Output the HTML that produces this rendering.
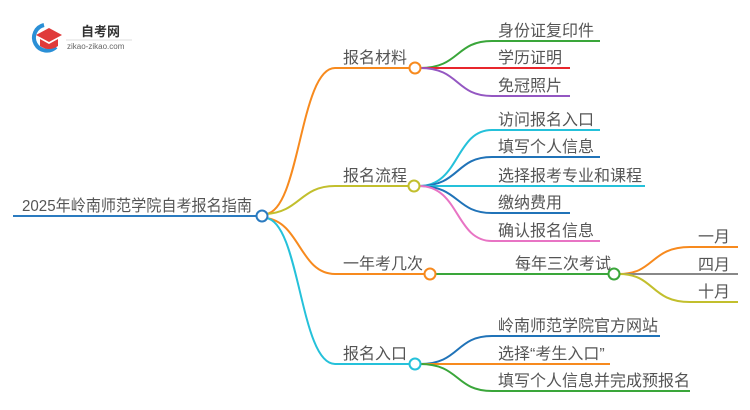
<!DOCTYPE html>
<html><head><meta charset="utf-8"><style>
html,body{margin:0;padding:0;background:#fff;width:750px;height:410px;overflow:hidden}
text{font-family:"Liberation Sans","Noto Sans CJK SC",sans-serif;fill:#555;font-size:16px}
</style></head><body>
<svg width="750" height="410" viewBox="0 0 750 410" xmlns="http://www.w3.org/2000/svg" fill="none" stroke-width="2">
<!-- logo -->
<path d="M44 25 A13 13 0 1 0 56 47" stroke="#2a8fd6" stroke-width="4" fill="none"/>
<path d="M36 35 L49 28 L62 35 L49 42 Z" fill="#e03a3a"/>
<path d="M40 39 L40 46 Q49 52 58 46 L58 39 L49 44 Z" fill="#e03a3a"/>
<text x="81" y="36" style="font-size:13px;font-weight:bold;fill:#333">自考网</text>
<line x1="66" y1="40" x2="132" y2="40" stroke="#ddd" stroke-width="1"/>
<text x="67" y="49" style="font-size:8px;fill:#666">zikao-zikao.com</text>

<!-- root -->
<line x1="13" y1="216" x2="257" y2="216" stroke="#2b7bc0"/>
<text x="22" y="211" textLength="230" lengthAdjust="spacingAndGlyphs">2025年岭南师范学院自考报名指南</text>

<!-- branches -->
<path d="M266 214 C300 210,300 68,335 68 L410 68" stroke="#f78a1e"/>
<path d="M266 214 C300 212,300 186,335 186 L409 186" stroke="#c2bf2d"/>
<path d="M266 218 C300 222,300 274,335 274 L425 274" stroke="#f78a1e"/>
<path d="M266 218 C300 222,300 364,335 364 L410 364" stroke="#25c1da"/>
<text x="343" y="63">报名材料</text>
<text x="343" y="181">报名流程</text>
<text x="343" y="269">一年考几次</text>
<text x="343" y="359">报名入口</text>

<!-- b1 children -->
<path d="M420 68 C460 68,455 41,492 41 L600 41" stroke="#3aa63a"/>
<path d="M420 68 L570 68" stroke="#e8262c"/>
<path d="M420 68 C460 68,455 96,492 96 L570 96" stroke="#9457c2"/>
<text x="498" y="36">身份证复印件</text>
<text x="498" y="63">学历证明</text>
<text x="498" y="91">免冠照片</text>

<!-- b2 children -->
<path d="M419 186 C460 186,455 130,492 130 L600 130" stroke="#25c1da"/>
<path d="M419 186 C460 186,455 157,492 157 L600 157" stroke="#2073b8"/>
<path d="M419 186 L645 186" stroke="#25c1da"/>
<path d="M419 186 C460 186,455 213,492 213 L570 213" stroke="#2073b8"/>
<path d="M419 186 C460 186,455 241,492 241 L600 241" stroke="#e874c4"/>
<text x="498" y="125">访问报名入口</text>
<text x="498" y="152">填写个人信息</text>
<text x="498" y="181">选择报考专业和课程</text>
<text x="498" y="208">缴纳费用</text>
<text x="498" y="236">确认报名信息</text>

<!-- b3 -->
<path d="M435 274 L609 274" stroke="#3aa63a"/>
<text x="515" y="269">每年三次考试</text>
<path d="M619 274 C655 274,650 247,690 247 L738 247" stroke="#f78a1e"/>
<path d="M619 274 L738 274" stroke="#888"/>
<path d="M619 274 C655 274,650 302,690 302 L738 302" stroke="#c2bf2d"/>
<text x="698" y="242">一月</text>
<text x="698" y="270">四月</text>
<text x="698" y="297">十月</text>

<!-- b4 children -->
<path d="M420 364 C460 364,455 336,492 336 L660 336" stroke="#2073b8"/>
<path d="M420 364 L610 364" stroke="#f78a1e"/>
<path d="M420 364 C460 364,455 391,492 391 L690 391" stroke="#3aa63a"/>
<text x="498" y="331">岭南师范学院官方网站</text>
<text x="498" y="359">选择“考生入口”</text>
<text x="498" y="386">填写个人信息并完成预报名</text>

<!-- nodes -->
<circle cx="262" cy="216" r="5.5" fill="#fff" stroke="#2b7bc0"/>
<circle cx="415" cy="68" r="5.5" fill="#fff" stroke="#f78a1e"/>
<circle cx="414" cy="186" r="5.5" fill="#fff" stroke="#c2bf2d"/>
<circle cx="430" cy="274" r="5.5" fill="#fff" stroke="#f78a1e"/>
<circle cx="614" cy="274" r="5.5" fill="#fff" stroke="#3aa63a"/>
<circle cx="415" cy="364" r="5.5" fill="#fff" stroke="#25c1da"/>
</svg>
</body></html>
